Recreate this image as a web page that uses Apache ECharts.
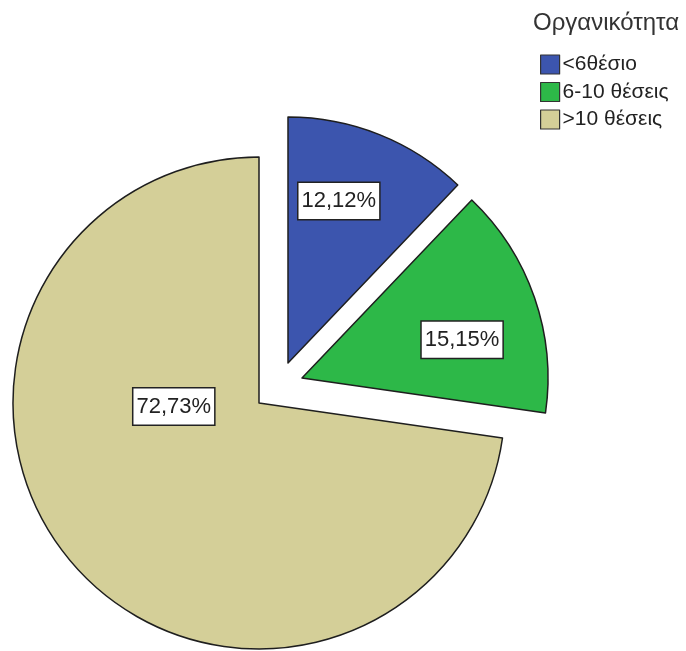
<!DOCTYPE html>
<html>
<head>
<meta charset="utf-8">
<script src="https://cdn.jsdelivr.net/npm/echarts@6/dist/echarts.min.js"></script>
<style>html,body{margin:0;padding:0;background:#fff}#c{width:686px;height:651px}</style>
</head>
<body>
<div id="c"></div>
<script>
const categories = ['<6θέσιο', '6-10 θέσεις', '>10 θέσεις'];
const counts = [4, 5, 24];
const colors = ['#3c55ae', '#2db848', '#d4cf98'];
const legendTitle = 'Οργανικότητα';

// per-slice drawing setup (exploded centers and label nudges)
const sliceCenters = [[288, 363], [302, 378], [259, 403]];
const labelNudges = [[4, -45], [41, 3], [10, -79]];
const FONT = "'Liberation Sans', Arial, sans-serif";

const chart = echarts.init(document.getElementById('c'), null, {renderer: 'canvas'});

const series = categories.map((owner, k) => ({
  type: 'pie',
  silent: true,
  center: sliceCenters[k],
  radius: 246,
  startAngle: 90,
  clockwise: true,
  avoidLabelOverlap: false,
  percentPrecision: 2,
  labelLine: {show: false},
  labelLayout: {dx: labelNudges[k][0], dy: labelNudges[k][1]},
  data: categories.map((name, i) => ({
    name: name,
    value: counts[i],
    itemStyle: i === k
      ? {color: colors[i], borderColor: '#1e1e1e', borderWidth: 1.5}
      : {color: 'rgba(0,0,0,0)', borderWidth: 0},
    label: i === k ? {
      show: true,
      position: 'inside',
      formatter: p => p.percent.toFixed(2).replace('.', ',') + '%',
      fontFamily: FONT,
      fontSize: 22,
      color: '#222',
      backgroundColor: '#fff',
      borderColor: '#222',
      borderWidth: 1.5,
      lineHeight: 24,
      padding: [7, 3, 5, 3]
    } : {show: false}
  }))
}));

chart.setOption({
  animation: false,
  backgroundColor: '#fff',
  title: {
    text: legendTitle,
    left: 533,
    top: 11,
    padding: 0,
    textStyle: {fontFamily: FONT, fontSize: 24, fontWeight: 'normal', color: '#333'}
  },
  legend: {
    orient: 'vertical',
    left: 540,
    top: 54,
    padding: 0,
    icon: 'rect',
    itemWidth: 19,
    itemHeight: 19,
    itemGap: 6.5,
    selectedMode: false,
    textStyle: {fontFamily: FONT, fontSize: 21, lineHeight: 19, color: '#222', padding: [0, 0, 0, -2]},
    data: categories.map((name, i) => ({
      name: name,
      itemStyle: {color: colors[i], borderColor: '#333', borderWidth: 1.2}
    }))
  },
  series: series
});
</script>
</body>
</html>
